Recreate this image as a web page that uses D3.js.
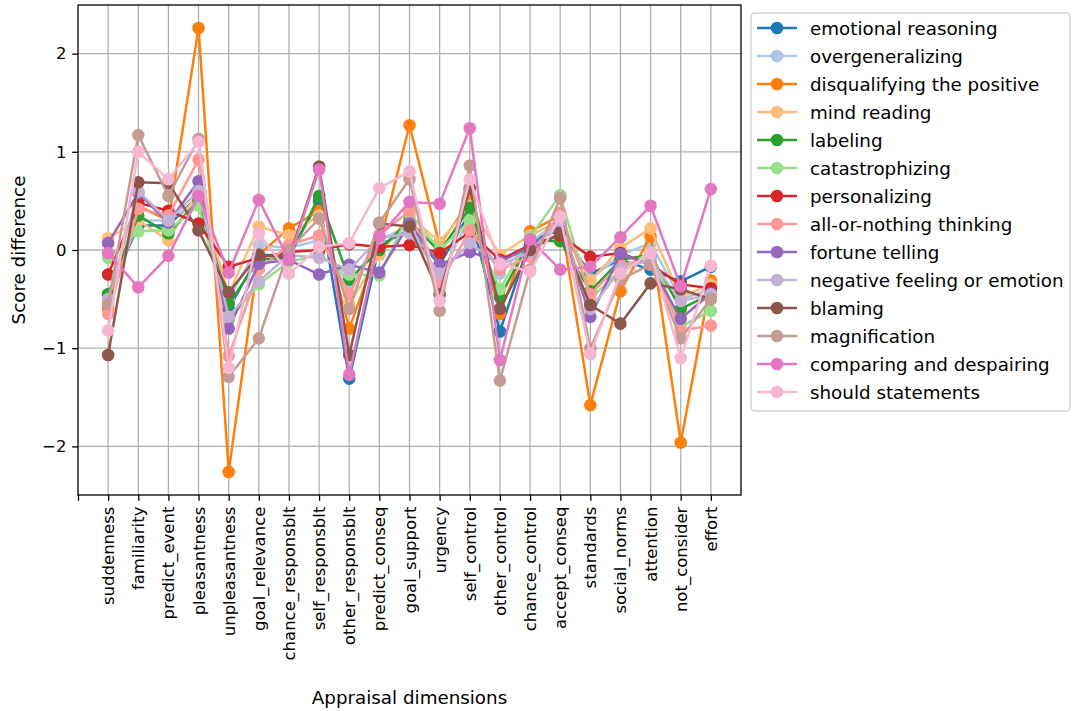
<!DOCTYPE html>
<html>
<head>
<meta charset="utf-8">
<script src="https://cdn.jsdelivr.net/npm/d3@7"></script>
<style>
  body { margin: 0; background: #fff; }
  svg text { font-family: "DejaVu Sans", sans-serif; }
</style>
</head>
<body>
<svg id="chart" width="1072" height="711"></svg>
<script>
const categories = ["suddenness","familiarity","predict_event","pleasantness","unpleasantness","goal_relevance","chance_responsblt","self_responsblt","other_responsblt","predict_conseq","goal_support","urgency","self_control","other_control","chance_control","accept_conseq","standards","social_norms","attention","not_consider","effort"];

const seriesNames = ["emotional reasoning","overgeneralizing","disqualifying the positive","mind reading","labeling","catastrophizing","personalizing","all-or-nothing thinking","fortune telling","negative feeling or emotion","blaming","magnification","comparing and despairing","should statements"];

const emotionalReasoning = [-0.45,0.25,0.25,0.55,-0.6,-0.05,-0.05,0.5,-1.31,0.05,0.2,-0.15,0.38,-0.83,0.1,0.2,-0.24,-0.1,-0.2,-0.32,-0.17];
const overgeneralizing   = [-0.5,0.3,0.3,0.5,-0.5,0.05,0.02,0.1,-0.35,0.1,0.25,-0.3,0.35,-0.24,0.08,0.3,-0.3,-0.05,0.07,-0.5,-0.4];
const disqualifying      = [-0.6,0.45,0.3,2.26,-2.26,-0.05,0.22,0.4,-0.8,0.05,1.27,0.05,0.5,-0.65,0.19,0.35,-1.58,-0.42,0.14,-1.96,-0.31];
const mindReading        = [0.12,0.3,0.1,0.6,-0.45,0.24,0.15,0.35,-0.55,-0.05,0.35,0.08,0.45,-0.05,0.15,0.3,-0.32,0.02,0.22,-0.48,-0.35];
const labeling           = [-0.45,0.35,0.17,0.5,-0.55,-0.1,-0.08,0.55,-0.3,0.0,0.3,-0.02,0.43,-0.48,0.1,0.09,-0.42,-0.1,-0.05,-0.6,-0.45];
const catastrophizing    = [-0.08,0.19,0.2,0.45,-0.72,-0.35,-0.12,-0.05,-0.25,-0.26,0.38,0.0,0.3,-0.4,0.13,0.56,-0.5,-0.2,-0.02,-0.78,-0.62];
const personalizing      = [-0.25,0.48,0.4,0.27,-0.17,-0.08,-0.02,0.0,0.06,0.03,0.05,-0.03,0.18,-0.1,0.05,0.15,-0.07,-0.03,-0.15,-0.35,-0.39];
const allOrNothing       = [-0.65,0.42,0.35,0.92,-1.08,-0.2,0.05,0.15,-0.45,0.15,0.4,-0.35,0.2,-0.2,-0.07,0.38,-0.45,-0.15,-0.1,-0.82,-0.77];
const fortuneTelling     = [0.07,0.58,0.28,0.7,-0.8,-0.14,-0.1,-0.25,-0.15,-0.23,0.27,-0.15,-0.02,-0.12,0.03,0.27,-0.68,-0.04,-0.15,-0.7,-0.44];
const negativeFeeling    = [-0.5,0.6,0.3,0.6,-0.68,-0.32,-0.05,-0.08,-0.2,0.12,0.17,-0.24,0.07,-0.15,-0.02,0.3,-0.6,-0.2,-0.1,-0.52,-0.45];
const blaming            = [-1.07,0.69,0.68,0.2,-0.43,-0.05,-0.08,0.85,-1.07,0.27,0.24,-0.45,0.63,-0.6,0.0,0.17,-0.56,-0.75,-0.34,-0.4,-0.5];
const magnification      = [-0.55,1.17,0.55,1.13,-1.29,-0.9,0.0,0.32,-0.6,0.28,0.72,-0.62,0.86,-1.33,-0.2,0.53,-1.0,-0.3,-0.15,-0.9,-0.5];
const comparing          = [-0.03,-0.38,-0.06,0.55,-0.23,0.51,-0.1,0.82,-1.27,0.14,0.49,0.47,1.24,-1.12,0.11,-0.2,-0.17,0.13,0.45,-0.37,0.62];
const shouldStatements   = [-0.82,1.0,0.72,1.1,-1.2,0.17,-0.24,0.03,0.07,0.63,0.8,-0.52,0.72,-0.14,-0.22,0.34,-1.06,-0.24,-0.03,-1.1,-0.16];

const colors = ["#1f77b4","#aec7e8","#ff7f0e","#ffbb78","#2ca02c","#98df8a","#d62728","#ff9896","#9467bd","#c5b0d5","#8c564b","#c49c94","#e377c2","#f7b6d2"];
const yTicks = [-2,-1,0,1,2];

const seriesValues = [emotionalReasoning,overgeneralizing,disqualifying,mindReading,labeling,catastrophizing,personalizing,allOrNothing,fortuneTelling,negativeFeeling,blaming,magnification,comparing,shouldStatements];
const series = seriesNames.map((n,i)=>({name:n, color:colors[i], values:seriesValues[i]}));

const svg = d3.select("#chart");
const m = {left:78, right:741, top:5, bottom:495};
const x = d3.scaleLinear().domain([-1, 21]).range([m.left, m.right]);
const y = d3.scaleLinear().domain([-2.495, 2.495]).range([m.bottom, m.top]);
const FS = 16.5;   // tick labels
const FL = 18.3;   // legend and axis titles

// grid
const grid = svg.append("g");
categories.forEach((c,i)=>{
  grid.append("line").attr("x1",x(i)).attr("x2",x(i)).attr("y1",m.top).attr("y2",m.bottom)
    .attr("stroke","#b0b0b0").attr("stroke-width",1.3);
});
yTicks.forEach(t=>{
  grid.append("line").attr("x1",m.left).attr("x2",m.right).attr("y1",y(t)).attr("y2",y(t))
    .attr("stroke","#b0b0b0").attr("stroke-width",1.3);
});

// lines
const line = d3.line().x((d,i)=>x(i)).y(d=>y(d));
const plot = svg.append("g");
series.forEach(s=>{
  const g = plot.append("g");
  g.append("path").datum(s.values).attr("d",line).attr("fill","none")
    .attr("stroke",s.color).attr("stroke-width",2.5).attr("stroke-linejoin","round");
  g.selectAll("circle").data(s.values).enter().append("circle")
    .attr("cx",(d,i)=>x(i)).attr("cy",d=>y(d)).attr("r",6.3).attr("fill",s.color);
});

// axes
const xAxis = d3.axisBottom(x).tickValues(d3.range(-1,21)).tickFormat(d=> d<0 ? "" : categories[d]).tickSize(5.8).tickPadding(5.8);
const gx = svg.append("g").attr("transform",`translate(0,${m.bottom})`).call(xAxis);
gx.select(".domain").remove();
gx.selectAll(".tick line").attr("stroke","#000").attr("stroke-width",1.3);
gx.selectAll(".tick text").attr("font-size",FS).attr("fill","#000")
  .attr("transform","rotate(-90)").attr("text-anchor","end").attr("y",0).attr("x",-11.6)
  .attr("dx",0).attr("dominant-baseline","central").attr("dy",0);

const yAxis = d3.axisLeft(y).tickValues(yTicks).tickFormat(d=> d<0 ? "\u2212"+Math.abs(d) : String(d)).tickSize(5.8).tickPadding(5.8);
const gy = svg.append("g").attr("transform",`translate(${m.left},0)`).call(yAxis);
gy.select(".domain").remove();
gy.selectAll(".tick line").attr("stroke","#000").attr("stroke-width",1.3);
gy.selectAll(".tick text").attr("font-size",FS).attr("fill","#000");

// frame
svg.append("rect").attr("x",m.left).attr("y",m.top).attr("width",m.right-m.left).attr("height",m.bottom-m.top)
  .attr("fill","none").attr("stroke","#000").attr("stroke-width",1.3);

// axis titles
svg.append("text").attr("x",(m.left+m.right)/2).attr("y",704).attr("text-anchor","middle").attr("font-size",FL).text("Appraisal dimensions");
svg.append("text").attr("transform",`translate(25,${(m.top+m.bottom)/2}) rotate(-90)`).attr("text-anchor","middle").attr("font-size",FL).text("Score difference");

// legend
const lg = svg.append("g");
lg.append("rect").attr("x",751).attr("y",13).attr("width",319).attr("height",398).attr("rx",4)
  .attr("fill","#fff").attr("fill-opacity",0.8).attr("stroke","#d0d0d0").attr("stroke-width",1.3);
series.forEach((s,i)=>{
  const yy = 28 + i*28;
  lg.append("line").attr("x1",757).attr("x2",797).attr("y1",yy).attr("y2",yy).attr("stroke",s.color).attr("stroke-width",2.5);
  lg.append("circle").attr("cx",777).attr("cy",yy).attr("r",6.3).attr("fill",s.color);
  lg.append("text").attr("x",810).attr("y",yy).attr("dominant-baseline","central").attr("font-size",FL).text(s.name);
});
</script>
</body>
</html>
